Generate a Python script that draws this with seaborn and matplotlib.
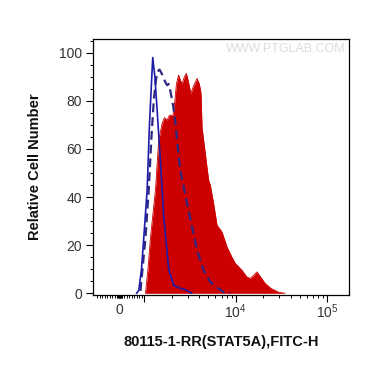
import numpy as np
import pandas as pd
import seaborn as sns
import matplotlib
matplotlib.use("Agg")
import matplotlib.pyplot as plt
from matplotlib.ticker import FixedLocator, FixedFormatter

# ---- data ----
# Isotype control (blue solid line)
ctrl_x = [680, 772, 880, 972, 1070, 1134, 1232, 1300, 1377, 1496, 1625, 1843, 2089, 2500, 2806, 3300]
ctrl_y = [0, 1.2, 10, 23, 43, 70, 98, 90, 76, 55, 32, 10, 3.3, 2, 1.5, 0]

# Unstained / blank (navy dashed line)
blank_x = [840, 1025, 1114, 1193, 1264, 1330, 1377, 1460, 1561, 1680, 1771, 1850, 1924,
           2059, 2182, 2364, 2500, 2929, 3321, 3767, 4447, 5263, 6487, 7358, 8708]
blank_y = [1, 23, 43, 65, 80, 88, 92, 93, 91, 88, 86.5, 87, 84,
           78, 71, 57, 50, 37.3, 27.6, 17.9, 9.6, 4.7, 2, 0.5, 0]

# STAT5A antibody (red filled)
stat_x = [1025, 1092, 1163, 1319, 1433, 1561, 1654, 1771, 1876, 2059, 2154, 2237, 2364,
          2474, 2582, 2736, 2877, 3027, 3223, 3432, 3767, 3992, 4167, 4272, 4642, 5044,
          5263, 5719, 6232, 7068, 8013, 9089, 9875, 11690, 13260, 14400, 15730, 17050,
          18530, 21010, 24430, 29370, 34750]
stat_y = [0, 10, 23, 43, 63.7, 70.6, 73, 72, 74, 74, 80, 87, 90.7,
          88.6, 87, 90, 91.4, 88, 83, 86, 89.3, 87, 83, 69, 58, 47,
          45, 37.4, 28.3, 25.5, 19.3, 15, 12.5, 9.6, 6.8, 6.2, 7.5, 8.9,
          7, 4.1, 2.0, 0.5, 0]

x_label = "80115-1-RR(STAT5A),FITC-H"
y_label = "Relative Cell Number"
y_ticks = [0, 20, 40, 60, 80, 100]
x_tick_vals = [1e3, 1e4, 1e5]
x_tick_labels = ["", r"$10^4$", r"$10^5$"]

# ---- style ----
sns.set_style("ticks")
plt.rcParams["font.family"] = ["Liberation Sans", "DejaVu Sans"]
plt.rcParams["mathtext.fontset"] = "custom"
plt.rcParams["mathtext.rm"] = "Liberation Sans"
plt.rcParams["mathtext.it"] = "Liberation Sans"
plt.rcParams["mathtext.bf"] = "Liberation Sans:bold"
plt.rcParams["mathtext.default"] = "regular"

fig = plt.figure(figsize=(3.70, 3.67), dpi=100)
ax = fig.add_axes([93 / 370, 1 - 295 / 367, 256 / 370, 256 / 367])

df_stat = pd.DataFrame({"x": stat_x, "y": stat_y})
df_ctrl = pd.DataFrame({"x": ctrl_x, "y": ctrl_y})
df_blank = pd.DataFrame({"x": blank_x, "y": blank_y})

ax.set_xscale("symlog", linthresh=1000, linscale=0.246)

ax.fill_between(df_stat["x"], 0, df_stat["y"], color="#cc0000", linewidth=0, zorder=1)
sns.lineplot(data=df_stat, x="x", y="y", ax=ax, color="#cc0000", linewidth=0.6,
             estimator=None, sort=False, zorder=2)
sns.lineplot(data=df_blank, x="x", y="y", ax=ax, color="#2d2880", linewidth=1.6,
             estimator=None, sort=False, dashes=False, zorder=3)
ax.lines[-1].set_dashes((4, 2.2))
sns.lineplot(data=df_ctrl, x="x", y="y", ax=ax, color="#1c1ca8", linewidth=1.2,
             estimator=None, sort=False, zorder=4)

ax.set_xlim(-1040, 1.74e5)
ax.set_ylim(-0.7, 105.7)

# x ticks
ax.xaxis.set_major_locator(FixedLocator(x_tick_vals))
ax.xaxis.set_major_formatter(FixedFormatter(x_tick_labels))
minor = [0]
minor += [s * v for v in range(100, 1000, 100) for s in (-1, 1)]
minor += [s * v for v in range(20, 100, 20) for s in (-1, 1)]
minor += [m * 10 ** k for k in (3, 4) for m in range(2, 10)]
minor = sorted(minor)
ax.xaxis.set_minor_locator(FixedLocator(minor))
ax.xaxis.set_minor_formatter(FixedFormatter(["0" if v == 0 else "" for v in minor]))

# y ticks
ax.yaxis.set_major_locator(FixedLocator(y_ticks))
ax.yaxis.set_minor_locator(FixedLocator([v for v in range(0, 106, 5) if v % 20]))

ax.tick_params(axis="both", which="major", length=5, width=0.8, labelsize=10,
               labelcolor="#333333", color="black", pad=3)
ax.tick_params(axis="both", which="minor", length=2.5, width=0.7, labelsize=10,
               labelcolor="#333333", color="black", pad=5.5)
ax.tick_params(axis="x", which="major", pad=0.5)
ax.tick_params(axis="x", which="minor", pad=3)

for lbl in ax.get_xticklabels():
    lbl.set_horizontalalignment("left")
    lbl.set_x(0)
for t in ax.xaxis.get_major_ticks():
    t.label1.set_horizontalalignment("center")

for sp in ax.spines.values():
    sp.set_visible(True)
    sp.set_linewidth(0.9)
    sp.set_color("black")

ax.set_xlabel(x_label, fontsize=10.5, fontweight="bold", color="#111111")
ax.set_ylabel(y_label, fontsize=10.5, fontweight="bold", color="#111111")
ax.xaxis.set_label_coords(0.5, -0.158)
ax.yaxis.set_label_coords(-0.2, 0.5)

ax.text(0.985, 0.985, "WWW.PTGLAB.COM", transform=ax.transAxes, ha="right", va="top",
        fontsize=9, color="#dcdcdc")

fig.savefig("out.png", dpi=100)
